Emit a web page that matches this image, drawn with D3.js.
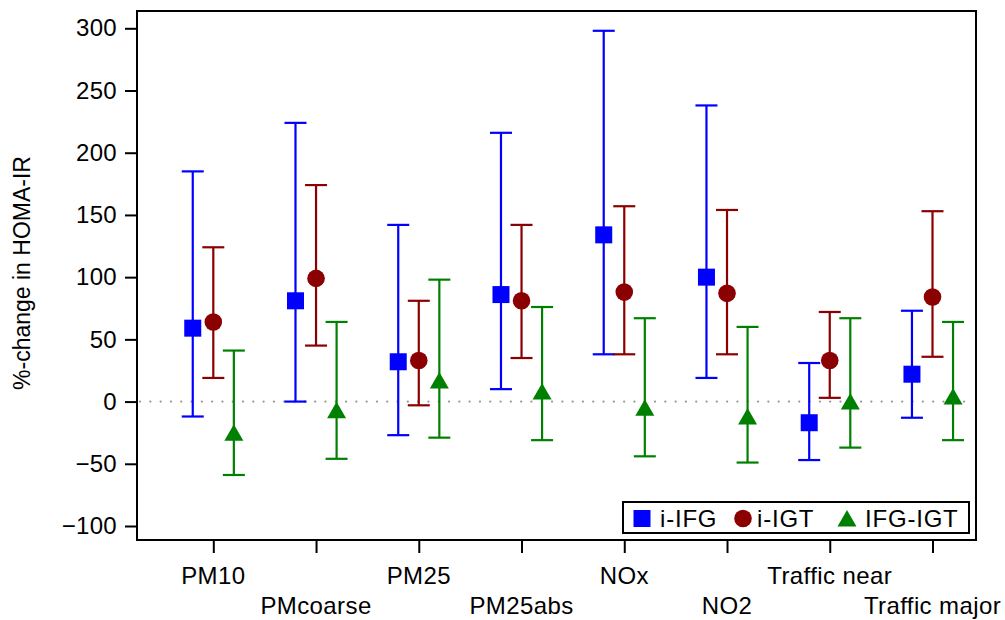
<!DOCTYPE html>
<html>
<head>
<meta charset="utf-8">
<script src="https://cdn.jsdelivr.net/npm/d3@7"></script>
<style>
  body { margin: 0; background: white; }
  text { font-family: Arial, "Liberation Sans", sans-serif; fill: #000; }
</style>
</head>
<body>
<div id="chart"></div>
<script>
const categories = ["PM10", "PMcoarse", "PM25", "PM25abs", "NOx", "NO2", "Traffic near", "Traffic major"];
const yTicks = [-100, -50, 0, 50, 100, 150, 200, 250, 300];
const seriesNames = ["i-IFG", "i-IGT", "IFG-IGT"];

const ifgEst = [59, 81, 32, 86, 134, 100, -17, 22];
const ifgLow = [-12, 0, -27, 10, 38, 19, -47, -13];
const ifgHigh = [185, 224, 142, 216, 298, 238, 31, 73];

const igtEst = [64, 99, 33, 81, 88, 87, 33, 84];
const igtLow = [19, 45, -3, 35, 38, 38, 3, 36];
const igtHigh = [124, 174, 81, 142, 157, 154, 72, 153];

const bothEst = [-25, -7, 17, 8, -5, -12, 0, 4];
const bothLow = [-59, -46, -29, -31, -44, -49, -37, -31];
const bothHigh = [41, 64, 98, 76, 67, 60, 67, 64];

const width = 1005;
const height = 620;
const frame = {left: 137, right: 976, top: 11, bottom: 540};

const colors = ["#0000ff", "#8b0000", "#008000"];
const shapes = ["square", "circle", "triangle"];

const series = [
  {est: ifgEst, low: ifgLow, high: ifgHigh},
  {est: igtEst, low: igtLow, high: igtHigh},
  {est: bothEst, low: bothLow, high: bothHigh}
];

const svg = d3.select("#chart")
  .append("svg")
  .attr("width", width)
  .attr("height", height);

const x = d3.scalePoint()
  .domain(categories)
  .range([213.3, 932.5]);

const y = d3.scaleLinear()
  .domain([-100, 300])
  .range([526, 28.3]);

const offset = x.step() * 0.2;

// zero reference line
svg.append("line")
  .attr("x1", frame.left + 3)
  .attr("x2", frame.right - 3)
  .attr("y1", y(0))
  .attr("y2", y(0))
  .attr("stroke", "#999")
  .attr("stroke-width", 2.2)
  .attr("stroke-linecap", "round")
  .attr("stroke-dasharray", "0.1 10.2");

// y axis
const yAxis = svg.append("g")
  .attr("transform", `translate(${frame.left},0)`)
  .call(d3.axisLeft(y).tickValues(yTicks).tickSize(12).tickPadding(8));
yAxis.select(".domain").remove();
yAxis.selectAll(".tick line").attr("stroke", "#000").attr("stroke-width", 2);
yAxis.selectAll(".tick text")
  .style("font-size", "24px")
  .style("letter-spacing", "0.3px")
  .attr("fill", "#000");

// x axis
const xAxis = svg.append("g")
  .attr("transform", `translate(0,${frame.bottom})`)
  .call(d3.axisBottom(x).tickSize(13).tickFormat(""));
xAxis.select(".domain").remove();
xAxis.selectAll(".tick line").attr("stroke", "#000").attr("stroke-width", 2);

svg.append("g")
  .selectAll("text")
  .data(categories)
  .enter()
  .append("text")
  .attr("x", d => x(d))
  .attr("y", (d, i) => i % 2 === 0 ? 584 : 614)
  .attr("text-anchor", "middle")
  .style("font-size", "24px")
  .style("letter-spacing", "0.4px")
  .text(d => d);

// y label
svg.append("text")
  .attr("transform", "translate(30,273) rotate(-90)")
  .attr("text-anchor", "middle")
  .style("font-size", "23px")
  .text("%-change in HOMA-IR");

// frame
svg.append("rect")
  .attr("x", frame.left)
  .attr("y", frame.top)
  .attr("width", frame.right - frame.left)
  .attr("height", frame.bottom - frame.top)
  .attr("fill", "none")
  .attr("stroke", "#000")
  .attr("stroke-width", 2);

function drawMarker(g, shape, color) {
  if (shape === "square") {
    g.append("rect").attr("x", -8.5).attr("y", -8.5).attr("width", 17).attr("height", 17).attr("fill", color);
  } else if (shape === "circle") {
    g.append("circle").attr("r", 8.8).attr("fill", color);
  } else {
    g.append("path").attr("d", "M0,-8.5L9.5,8L-9.5,8Z").attr("fill", color);
  }
}

const capHalf = 11;

series.forEach((s, k) => {
  const dx = (k - 1) * offset;
  const g = svg.append("g");
  const rows = categories.map((c, i) => ({c, est: s.est[i], low: s.low[i], high: s.high[i]}));

  const bars = g.selectAll("g.bar")
    .data(rows)
    .enter()
    .append("g")
    .attr("class", "bar")
    .attr("transform", d => `translate(${x(d.c) + dx},0)`);

  bars.append("line")
    .attr("y1", d => y(d.low))
    .attr("y2", d => y(d.high))
    .attr("stroke", colors[k])
    .attr("stroke-width", 2.2);
  bars.append("line")
    .attr("x1", -capHalf).attr("x2", capHalf)
    .attr("y1", d => y(d.high)).attr("y2", d => y(d.high))
    .attr("stroke", colors[k]).attr("stroke-width", 2.2);
  bars.append("line")
    .attr("x1", -capHalf).attr("x2", capHalf)
    .attr("y1", d => y(d.low)).attr("y2", d => y(d.low))
    .attr("stroke", colors[k]).attr("stroke-width", 2.2);

  bars.each(function (d) {
    const m = d3.select(this).append("g").attr("transform", `translate(0,${y(d.est)})`);
    drawMarker(m, shapes[k], colors[k]);
  });
});

// legend
const legend = svg.append("g");
legend.append("rect")
  .attr("x", 623)
  .attr("y", 502)
  .attr("width", 346)
  .attr("height", 31)
  .attr("fill", "white")
  .attr("stroke", "#000")
  .attr("stroke-width", 2);

const legendMarkX = [642, 743, 847];
const legendTextX = [660, 757, 865];
seriesNames.forEach((name, k) => {
  const m = legend.append("g").attr("transform", `translate(${legendMarkX[k]},518.5)`);
  drawMarker(m, shapes[k], colors[k]);
  legend.append("text")
    .attr("x", legendTextX[k])
    .attr("y", 526.5)
    .style("font-size", "24px")
    .style("letter-spacing", "0.8px")
    .text(name);
});
</script>
</body>
</html>
